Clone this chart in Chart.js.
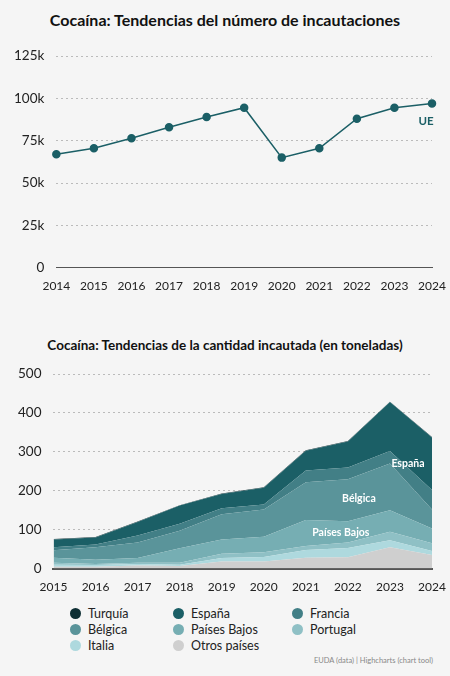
<!DOCTYPE html>
<html><head><meta charset="utf-8">
<script src="https://cdn.jsdelivr.net/npm/chart.js@4/dist/chart.umd.min.js"></script>
<style>
body{margin:0;background:#f5f5f5;font-family:Lato,"Open Sans",sans-serif;width:450px;height:676px;overflow:hidden;position:relative}
.t{position:absolute;left:0;width:450px;text-align:center;font-weight:bold;color:#111}
#c1w{position:absolute;left:0;top:36px;width:450px;height:260px}
#c2w{position:absolute;left:0;top:354px;width:450px;height:243px}
#leg{position:absolute;left:70px;top:606px;font-size:12.5px;color:#222;display:grid;grid-template-columns:103px 119px 100px;row-gap:1px}
#leg span{display:flex;align-items:center}
#leg i{display:inline-block;width:11px;height:11px;border-radius:50%;margin-right:7px}
#src{position:absolute;right:17px;top:656px;font-size:7.5px;color:#888}
</style></head><body>
<div class="t" style="top:10px;font-size:16px">Cocaína: Tendencias del número de incautaciones</div>
<div id="c1w"><canvas id="c1"></canvas></div>
<div class="t" style="top:337px;font-size:13.5px">Cocaína: Tendencias de la cantidad incautada (en toneladas)</div>
<div id="c2w"><canvas id="c2"></canvas></div>
<div id="leg"></div>
<div id="src">EUDA (data) | Highcharts (chart tool)</div>
<script>
const years1=['2014','2015','2016','2017','2018','2019','2020','2021','2022','2023','2024'];
const seizuresUE=[67000,70500,76500,83000,89000,94500,65000,70500,88000,94500,97000];
const yTicks1=[0,25000,50000,75000,100000,125000];

const years2=['2015','2016','2017','2018','2019','2020','2021','2022','2023','2024'];
const otros=[5,5,8,7,18,18,28,29,55,35];
const italia=[5,4,4,3,9,12,20,24,18,10];
const portugal=[5,3,3,5,11,12,10,14,22,20];
const paisesBajos=[13,11,12,37,37,40,67,55,55,38];
const belgica=[19,32,40,45,65,70,97,108,120,49];
const francia=[8,7,18,18,15,13,30,30,32,50];
const espana=[20,18,35,47,37,43,51,67,126,135];
const turquia=[1,1,1,1,1,1,1,1,1,1];
const yTicks2=[0,100,200,300,400,500];

const font='Lato, "Open Sans", sans-serif';
const grid={color:'#bbb',lineWidth:1,tickLength:0};

const labelPlugin1={id:'l1',afterDatasetsDraw(c){const m=c.getDatasetMeta(0).data;const p=m[m.length-1];const x=c.ctx;x.save();x.font='bold 11.5px '+font;x.fillStyle='#1b5f66';x.textAlign='center';x.fillText('UE',p.x-6,p.y+22);x.restore();}};
new Chart(document.getElementById('c1'),{type:'line',
data:{labels:years1,datasets:[{data:seizuresUE,borderColor:'#1b5f66',backgroundColor:'#1b5f66',borderWidth:1.5,pointRadius:3.5,tension:0}]},
options:{responsive:true,maintainAspectRatio:false,animation:false,layout:{padding:{left:2,right:18,top:0}},
plugins:{legend:{display:false},tooltip:{enabled:false}},
scales:{x:{offset:false,grid:{display:false},border:{color:'#555'},ticks:{color:'#222',font:{size:12,family:font},maxRotation:0}},
y:{min:0,max:125000,afterBuildTicks:a=>{a.ticks=yTicks1.map(v=>({value:v}))},border:{display:false,dash:[2,3]},grid:grid,ticks:{color:'#222',padding:12,font:{size:13.5,family:font},callback:v=>v===0?'0':(v/1000)+'k'}}}},
plugins:[labelPlugin1]});

const series=[['Otros países',otros,'#cfcfcf'],['Italia',italia,'#aed9de'],['Portugal',portugal,'#8fc0c5'],['Países Bajos',paisesBajos,'#76aeb3'],['Bélgica',belgica,'#5a949a'],['Francia',francia,'#427f86'],['España',espana,'#1b5f66'],['Turquía',turquia,'#0e2f34']];
const ds=series.map((s,i)=>({label:s[0],data:s[1],backgroundColor:s[2],borderColor:s[2],borderWidth:0,pointRadius:0,fill:i===0?'origin':'-1',tension:0}));
const labelPlugin2={id:'l2',afterDatasetsDraw(c){const x=c.ctx,xs=c.scales.x,ys=c.scales.y;x.save();x.font='bold 10.5px '+font;x.fillStyle='#fff';x.textAlign='center';
const put=(t,i,dx,v)=>x.fillText(t,xs.getPixelForValue(i)+dx,ys.getPixelForValue(v));
put('España',8,18,260);put('Bélgica',7,11,170);put('Países Bajos',7,-7,85);x.restore();}};
new Chart(document.getElementById('c2'),{type:'line',data:{labels:years2,datasets:ds},
options:{responsive:true,maintainAspectRatio:false,animation:false,layout:{padding:{left:6,right:18,top:6}},
plugins:{legend:{display:false},tooltip:{enabled:false}},
scales:{x:{offset:false,grid:{display:false},border:{color:'#555',width:2},ticks:{color:'#222',font:{size:12,family:font},maxRotation:0}},
y:{stacked:true,min:0,max:500,afterBuildTicks:a=>{a.ticks=yTicks2.map(v=>({value:v}))},border:{display:false,dash:[2,3]},grid:grid,ticks:{color:'#222',padding:12,font:{size:13.5,family:font}}}}},
plugins:[labelPlugin2]});

const order=['Turquía','España','Francia','Bélgica','Países Bajos','Portugal','Italia','Otros países'];
document.getElementById('leg').innerHTML=order.map(n=>{const s=series.find(q=>q[0]===n);return '<span><i style="background:'+s[2]+'"></i>'+n+'</span>'}).join('');
</script></body></html>
